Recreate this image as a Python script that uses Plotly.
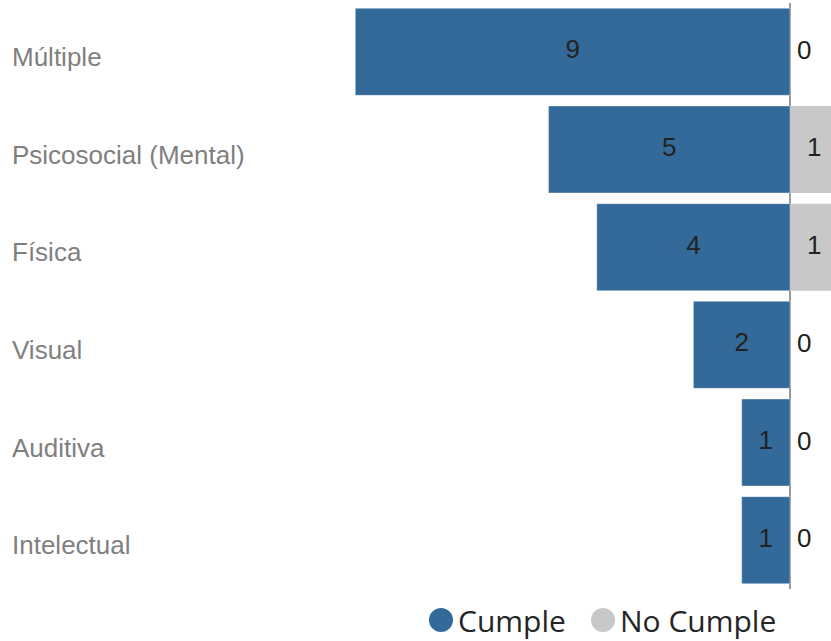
import plotly.graph_objects as go

categories = ["Múltiple", "Psicosocial (Mental)", "Física", "Visual", "Auditiva", "Intelectual"]
cumple = [9, 5, 4, 2, 1, 1]
no_cumple = [0, 1, 1, 0, 0, 0]
series_names = ["Cumple", "No Cumple"]

BLUE = "#346a9a"
GRAY = "#c8c8c8"
W, H = 831, 641
ML, MR, MT, MB = 0, 0, 3, 52
ZERO_PX = 790
PX_PER_UNIT = 48.3

fig = go.Figure()
fig.add_trace(go.Bar(
    y=categories, x=[-v for v in cumple], orientation="h", width=0.89,
    marker=dict(color=BLUE, line=dict(color="rgba(255,255,255,0.35)", width=1)),
    name=series_names[0], showlegend=False, hoverinfo="skip"))
fig.add_trace(go.Bar(
    y=categories, x=no_cumple, orientation="h", width=0.89,
    marker=dict(color=GRAY, line=dict(width=0)),
    name=series_names[1], showlegend=False, hoverinfo="skip"))

lab_font = dict(family="Liberation Sans, Arial", size=26, color="#222222")
fig.add_trace(go.Scatter(
    y=categories, x=[-v / 2 for v in cumple], mode="text",
    text=[str(v) for v in cumple], textposition="middle center",
    textfont=lab_font, showlegend=False, cliponaxis=False, hoverinfo="skip"))
pos_idx = [i for i, v in enumerate(no_cumple) if v > 0]
fig.add_trace(go.Scatter(
    y=[categories[i] for i in pos_idx], x=[no_cumple[i] / 2 for i in pos_idx], mode="text",
    text=[str(no_cumple[i]) for i in pos_idx], textposition="middle center",
    textfont=lab_font, showlegend=False, cliponaxis=False, hoverinfo="skip"))

plot_w = W - ML - MR
plot_h = H - MT - MB
x_left = -(ZERO_PX - ML) / PX_PER_UNIT
x_right = (W - MR - ZERO_PX) / PX_PER_UNIT

annotations = []
# zero-valued "No Cumple" labels, just right of the axis
for c, v in zip(categories, no_cumple):
    if v == 0:
        annotations.append(dict(
            x=v, xref="x", y=c, yref="y", xanchor="left", yanchor="middle",
            text=str(v), showarrow=False, xshift=5, yshift=2, font=lab_font))

for c in categories:
    annotations.append(dict(
        x=10 / plot_w, xref="paper", y=c, yref="y", xanchor="left", yanchor="middle",
        text=c, showarrow=False, yshift=-5,
        font=dict(family="Liberation Sans, Arial", size=26, color="#7f7f7f")))

# legend (custom, to get large circular markers)
leg_y = -(620 - (H - MB)) / plot_h
leg_items = [(series_names[0], BLUE, 441, 456), (series_names[1], GRAY, 603, 618)]
shapes = []
for name, col, cx, tx in leg_items:
    shapes.append(dict(
        type="circle", xref="paper", yref="paper", xsizemode="pixel", ysizemode="pixel",
        xanchor=(cx - ML) / plot_w, yanchor=leg_y, x0=-12, x1=12, y0=-12, y1=12,
        fillcolor=col, line=dict(width=0)))
    annotations.append(dict(
        x=(tx - ML) / plot_w, xref="paper", y=leg_y, yref="paper",
        xanchor="left", yanchor="middle", text=name, showarrow=False,
        font=dict(family="Open Sans", size=30, color="#252525")))

fig.update_layout(
    width=W, height=H, margin=dict(l=ML, r=MR, t=MT, b=MB),
    barmode="relative", bargap=0.11,
    plot_bgcolor="white", paper_bgcolor="white",
    xaxis=dict(range=[x_left, x_right], showgrid=False, showticklabels=False,
               zeroline=True, zerolinecolor="#999999", zerolinewidth=2,
               layer="above traces", fixedrange=True),
    yaxis=dict(categoryorder="array", categoryarray=categories, range=[5.5, -0.5],
               showgrid=False, showticklabels=False, zeroline=False, fixedrange=True),
    annotations=annotations, shapes=shapes, showlegend=False,
)

fig.write_html("out.html", config={"displayModeBar": False},
               post_script="document.body.style.margin='0';")
